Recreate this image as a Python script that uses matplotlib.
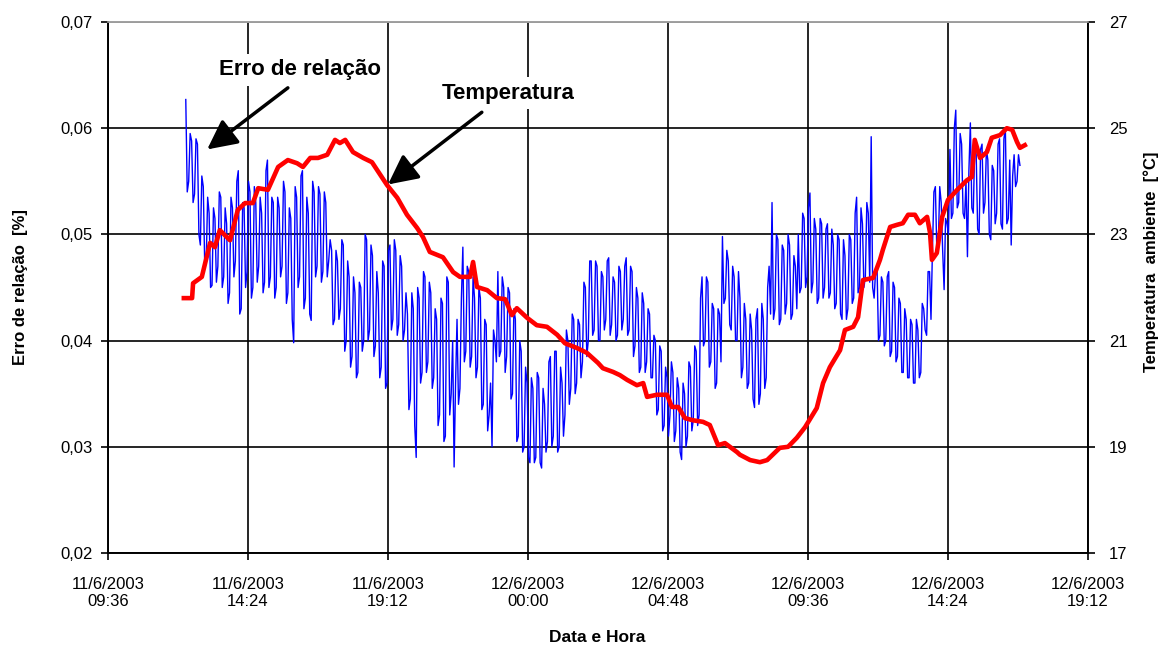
import matplotlib
matplotlib.use("Agg")
import matplotlib.pyplot as plt
import matplotlib.dates as mdates
import matplotlib.ticker as mticker
import numpy as np
import pandas as pd

plt.rcParams['font.family'] = ['Liberation Sans', 'DejaVu Sans']

# eixo de tempo
inicio_eixo = pd.Timestamp('2003-06-11 09:36')
fim_eixo = pd.Timestamp('2003-06-12 19:12')

# erro de relação (valores em 0,001 %), amostras a cada 3 min a partir de 12:16
# erro_milli: amostras pares (12:16, 12:22, ...), erro_milli_b: amostras ímpares (12:19, 12:25, ...)
erro_inicio = pd.Timestamp('2003-06-11 12:16')
erro_passo_min = 3
erro_milli = [
    62.7, 55.0, 58.8, 53.8, 58.5, 49.0, 54.5, 47.5, 52.0, 45.2,
    51.5, 47.0, 53.5, 46.0, 51.0, 44.5, 52.5, 47.5, 56.0, 43.0,
    52.5, 46.5, 54.0, 45.0, 53.0, 47.0, 52.0, 45.5, 57.0, 46.0,
    53.0, 45.0, 52.5, 47.0, 54.0, 44.5, 51.5, 39.8, 53.5, 46.0,
    56.0, 44.0, 52.0, 41.9, 54.0, 47.0, 53.8, 46.5, 53.0, 47.5,
    48.5, 42.0, 47.5, 43.0, 49.0, 40.0, 46.0, 38.5, 44.5, 37.0,
    45.0, 40.0, 49.5, 41.0, 48.0, 39.5, 44.5, 37.5, 47.0, 36.0,
    49.0, 42.0, 48.5, 41.5, 47.0, 41.0, 42.5, 34.5, 43.0, 29.0,
    44.0, 37.0, 46.0, 38.0, 44.5, 36.5, 42.0, 33.0, 43.5, 31.0,
    45.5, 35.0, 28.1, 42.0, 35.5, 48.8, 39.0, 46.5, 38.5, 44.0,
    37.5, 44.0, 34.0, 41.5, 33.0, 30.0, 40.0, 46.5, 39.0, 45.0,
    38.5, 44.5, 35.0, 42.0, 31.0, 39.0, 30.0, 36.0, 28.5, 35.5,
    29.0, 36.5, 28.0, 34.0, 30.5, 38.5, 31.0, 39.0, 30.0, 36.0,
    33.0, 40.0, 35.5, 42.0, 36.0, 41.5, 38.0, 45.0, 40.0, 47.5,
    41.0, 47.0, 40.0, 46.0, 42.0, 47.8, 41.5, 45.5, 40.5, 46.5,
    42.0, 47.8, 41.0, 46.5, 39.5, 44.0, 37.5, 43.5, 38.0, 42.5,
    36.5, 40.0, 33.5, 39.0, 32.0, 36.5, 33.0, 37.0, 31.5, 35.5,
    28.8, 35.0, 31.0, 37.5, 32.5, 39.0, 33.0, 46.0, 40.0, 45.5,
    38.0, 43.0, 36.0, 42.5, 49.8, 44.0, 47.5, 41.0, 46.0, 40.0,
    44.0, 37.5, 42.0, 36.0, 41.0, 33.7, 43.0, 35.0, 42.0, 36.5,
    47.0, 53.0, 43.0, 49.5, 42.0, 48.5, 43.5, 49.0, 42.5, 47.0,
    50.0, 45.0, 51.5, 46.0, 53.9, 45.5, 50.5, 44.0, 51.0, 45.0,
    51.0, 44.5, 49.0, 43.5, 49.5, 42.0, 48.0, 43.0, 49.5, 44.0,
    53.5, 45.0, 51.0, 46.0, 52.0, 59.2, 44.0, 47.0, 40.5, 45.5,
    40.0, 46.5, 39.0, 45.0, 38.5, 43.5, 37.0, 42.0, 36.5, 41.5,
    36.0, 41.0, 37.0, 43.0, 40.5, 46.5, 48.5, 54.5, 49.0, 53.0,
    44.8, 51.0, 58.0, 52.0, 61.7, 53.0, 58.5, 51.5, 47.9, 60.5,
    52.0, 57.5, 50.0, 58.5, 53.0, 57.0, 49.5, 56.0, 52.0, 59.0,
    50.5, 60.0, 51.5, 49.0, 57.5, 55.0, 56.5,
]
erro_milli_b = [
    54.0, 59.5, 53.0, 59.0, 50.0, 55.5, 47.0, 53.5, 45.0, 52.5,
    45.5, 54.0, 45.0, 52.5, 43.5, 53.5, 46.0, 55.0, 42.5, 53.0,
    45.0, 55.0, 44.0, 54.5, 45.5, 53.5, 44.5, 56.0, 45.0, 53.5,
    44.0, 53.5, 46.0, 55.0, 43.5, 52.5, 42.0, 54.5, 45.0, 55.5,
    43.0, 53.5, 42.5, 55.0, 46.0, 54.5, 45.5, 54.0, 46.0, 49.5,
    41.5, 48.5, 42.0, 49.5, 39.0, 47.5, 37.5, 46.0, 36.5, 45.5,
    39.0, 50.0, 40.0, 49.0, 38.5, 46.5, 36.5, 47.5, 35.5, 48.5,
    41.0, 49.5, 40.5, 48.0, 40.0, 44.5, 33.5, 44.5, 32.0, 45.0,
    36.0, 46.5, 37.0, 45.5, 35.5, 43.0, 32.0, 44.0, 30.5, 46.0,
    33.0, 40.0, 36.0, 34.0, 44.0, 38.0, 47.0, 37.5, 46.0, 36.5,
    45.0, 33.5, 42.0, 31.5, 36.0, 41.0, 38.0, 38.5, 46.0, 37.0,
    45.0, 34.5, 43.0, 30.5, 40.0, 29.5, 37.5, 29.0, 36.5, 28.5,
    37.0, 28.5, 35.5, 29.5, 38.0, 30.0, 39.0, 29.5, 37.5, 31.0,
    41.0, 34.0, 42.5, 35.0, 42.0, 36.5, 45.5, 38.5, 47.5, 40.5,
    47.5, 40.0, 46.5, 41.0, 47.5, 40.5, 46.0, 40.0, 47.0, 41.0,
    47.0, 40.5, 47.0, 38.5, 45.0, 37.0, 44.5, 37.0, 43.0, 36.5,
    40.5, 33.0, 39.5, 31.5, 37.5, 31.0, 38.0, 30.5, 36.5, 29.5,
    36.0, 30.0, 38.0, 31.5, 39.5, 32.0, 44.0, 39.5, 46.0, 37.5,
    43.5, 35.5, 43.0, 38.0, 43.5, 48.5, 41.5, 47.0, 40.0, 46.5,
    36.5, 43.5, 35.5, 42.5, 34.5, 42.0, 34.0, 43.5, 35.5, 45.0,
    42.5, 42.0, 50.0, 41.5, 49.0, 42.5, 50.0, 42.0, 48.0, 43.0,
    44.5, 52.0, 45.0, 52.5, 44.5, 51.5, 43.5, 51.5, 44.0, 50.5,
    44.0, 50.5, 43.0, 50.0, 42.5, 49.5, 42.0, 50.0, 43.5, 52.0,
    44.5, 52.5, 45.0, 53.0, 45.5, 45.0, 46.5, 40.0, 46.0, 39.5,
    46.0, 38.5, 45.5, 38.0, 44.0, 37.0, 43.0, 36.5, 42.0, 36.0,
    42.0, 36.5, 43.5, 41.0, 46.5, 42.0, 54.0, 48.5, 54.5, 48.5,
    51.5, 50.0, 51.5, 60.0, 52.5, 59.5, 52.0, 55.0, 56.0, 52.5,
    58.5, 50.5, 58.0, 52.0, 58.0, 50.0, 56.5, 51.0, 58.5, 51.0,
    59.0, 51.0, 57.0, 55.5, 54.5, 57.5,
]

# temperatura ambiente (minutos depois de 11/6 09:36, °C)
temp_min = [
    156, 173, 175, 193, 210, 220, 230, 251, 267, 282, 298, 309, 329, 350, 370,
    389, 401, 416, 432, 451, 467, 477, 488, 504, 525, 543, 574, 595, 615, 636,
    648, 662, 689, 710, 724, 745, 751, 759, 780, 800, 817, 831, 841, 862, 882,
    903, 924, 940, 965, 985, 1008, 1018, 1039, 1053, 1068, 1088, 1101, 1109,
    1129, 1150, 1160, 1173, 1187, 1203, 1224, 1238, 1255, 1269, 1294, 1300,
    1321, 1341, 1356, 1382, 1399, 1417, 1434, 1458, 1471, 1485, 1506, 1516,
    1533, 1543, 1553, 1574, 1588, 1594, 1609, 1623, 1635, 1646, 1660, 1670,
    1685, 1691, 1695, 1705, 1716, 1728, 1747, 1767, 1777, 1783, 1794, 1808,
    1818, 1835, 1849, 1860, 1870, 1876, 1886,
]
temp_c = [
    21.80, 21.80, 22.08, 22.20, 22.84, 22.76, 23.08, 22.89, 23.46, 23.59,
    23.59, 23.87, 23.84, 24.27, 24.40, 24.34, 24.27, 24.44, 24.44, 24.50,
    24.78, 24.72, 24.78, 24.55, 24.44, 24.36, 23.93, 23.69, 23.37, 23.12,
    22.95, 22.67, 22.57, 22.29, 22.20, 22.20, 22.48, 22.01, 21.95, 21.80,
    21.78, 21.48, 21.61, 21.43, 21.29, 21.26, 21.11, 20.95, 20.86, 20.77,
    20.58, 20.48, 20.41, 20.35, 20.26, 20.16, 20.20, 19.94, 19.98, 19.98,
    19.75, 19.75, 19.54, 19.50, 19.47, 19.41, 19.03, 19.07, 18.90, 18.85,
    18.75, 18.71, 18.75, 18.98, 19.00, 19.17, 19.37, 19.73, 20.20, 20.50,
    20.82, 21.20, 21.26, 21.44, 22.14, 22.18, 22.52, 22.71, 23.14, 23.18,
    23.21, 23.37, 23.37, 23.21, 23.33, 23.03, 22.52, 22.65, 23.33, 23.65,
    23.84, 24.02, 24.08, 24.78, 24.44, 24.55, 24.82, 24.87, 25.00, 24.97,
    24.74, 24.63, 24.68,
]

# junta as duas metades da série do erro
erro = np.empty(len(erro_milli) + len(erro_milli_b))
erro[0::2] = erro_milli
erro[1::2] = erro_milli_b
erro = erro / 1000
erro_t = erro_inicio + pd.to_timedelta(np.arange(len(erro)) * erro_passo_min, unit='min')
temp_t = inicio_eixo + pd.to_timedelta(temp_min, unit='min')

fig = plt.figure(figsize=(11.62, 6.47), dpi=100)
ax = fig.add_axes([108 / 1162, 1 - 553 / 647, 980 / 1162, 531 / 647])
ax2 = ax.twinx()

ax.plot(erro_t, erro, color='#0000ff', lw=1.0, zorder=3)
ax2.plot(temp_t, temp_c, color='#ff0000', lw=3.3, solid_joinstyle='round', zorder=4)

ax.set_xlim(inicio_eixo, fim_eixo)
ax.set_ylim(0.02, 0.07)
ax2.set_ylim(17, 27)

xt = pd.date_range(inicio_eixo, fim_eixo, freq='288min')
ax.set_xticks(mdates.date2num(xt.to_pydatetime()))
ax.xaxis.set_major_formatter(mticker.FuncFormatter(
    lambda v, p: (lambda d: f"{d.day}/{d.month}/{d.year}\n{d:%H:%M}")(mdates.num2date(v))))
ax.set_yticks(np.arange(0.02, 0.0701, 0.01))
ax.yaxis.set_major_formatter(mticker.FuncFormatter(lambda v, p: f"{v:.2f}".replace('.', ',')))
ax2.set_yticks(np.arange(17, 28, 2))

ax.grid(True, color='black', lw=1.2)
ax.set_axisbelow(True)
for a in (ax, ax2):
    for s in a.spines.values():
        s.set_linewidth(1.2)
    a.spines['top'].set_color('#a0a0a0')
ax.tick_params(axis='both', direction='out', length=5, width=1.2, labelsize=12)
ax.tick_params(axis='x', pad=12)
ax.tick_params(axis='y', pad=6)
ax2.tick_params(axis='y', direction='out', length=5, width=1.2, labelsize=12, pad=10)
for lbl in ax.get_xticklabels():
    lbl.set_horizontalalignment('center')
    lbl.set_multialignment('center')

fig.text(21 / 1162, 1 - 287 / 647, 'Erro de relação  [%]', rotation=90, ha='center', va='center',
         fontsize=12, fontweight='bold')
fig.text(1151 / 1162, 1 - 262 / 647, 'Temperatura  ambiente  [°C]', rotation=90, ha='center',
         va='center', fontsize=12, fontweight='bold')
fig.text(597 / 1162, 1 - 637 / 647, 'Data e Hora', ha='center', va='center',
         fontsize=12.5, fontweight='bold')

seta = dict(arrowstyle='-|>,head_length=0.9,head_width=0.45', color='black', lw=2.5,
            mutation_scale=20, shrinkA=0, shrinkB=0)
ax.annotate('', xy=(pd.Timestamp('2003-06-11 13:00'), 0.0580),
            xytext=(pd.Timestamp('2003-06-11 15:46'), 0.0638), arrowprops=seta, zorder=6)
ax.annotate('', xy=(pd.Timestamp('2003-06-11 19:12'), 0.0547),
            xytext=(pd.Timestamp('2003-06-11 22:25'), 0.0615), arrowprops=seta, zorder=6)
caixa = dict(facecolor='white', edgecolor='none', pad=4)
ax.text(pd.Timestamp('2003-06-11 16:11'), 0.0655, 'Erro de relação', ha='center', va='center',
        fontsize=16, fontweight='bold', bbox=caixa, zorder=6)
ax.text(pd.Timestamp('2003-06-11 23:19'), 0.0633, 'Temperatura', ha='center', va='center',
        fontsize=16, fontweight='bold', bbox=caixa, zorder=6)

fig.savefig('out.png', dpi=100)
